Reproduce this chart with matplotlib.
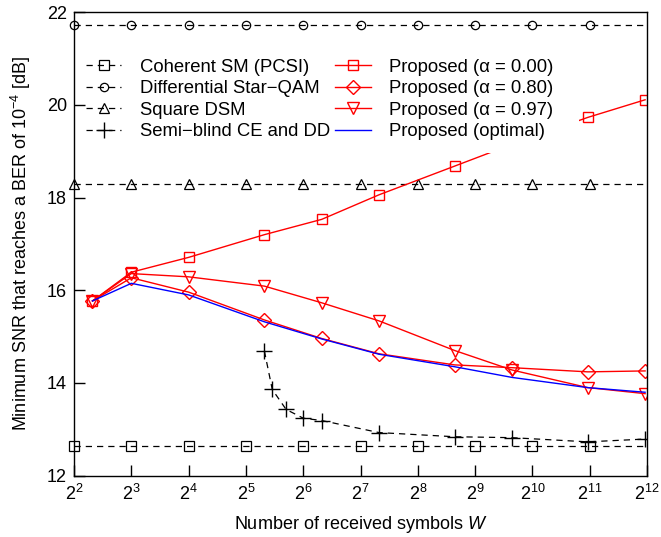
import numpy as np
import matplotlib
matplotlib.use("Agg")
import matplotlib.pyplot as plt
from matplotlib.patches import Rectangle

plt.rcParams['font.family'] = ['Liberation Sans', 'DejaVu Sans']
plt.rcParams['mathtext.fontset'] = 'custom'
plt.rcParams['mathtext.rm'] = 'Liberation Sans'
plt.rcParams['mathtext.it'] = 'Liberation Sans:italic'
plt.rcParams['font.size'] = 13

# Reference lines (drawn over the whole W range)
w_ref = [4, 8, 16, 32, 64, 128, 256, 512, 1024, 2048, 4096]
coherent = 12.63
star_qam = 21.72
square_dsm = 18.29

# Proposed schemes
w_prop = [5, 8, 16, 40, 80, 160, 400, 800, 2000, 4000]
alpha000 = [15.77, 16.39, 16.71, 17.20, 17.53, 18.06, 18.68, 19.15, 19.73, 20.11]
alpha080 = [15.77, 16.27, 15.96, 15.36, 14.96, 14.63, 14.39, 14.33, 14.24, 14.26]
alpha097 = [15.77, 16.36, 16.29, 16.09, 15.73, 15.34, 14.70, 14.28, 13.90, 13.77]
optimal = [15.77, 16.15, 15.90, 15.32, 14.95, 14.62, 14.35, 14.12, 13.90, 13.80]

# Semi-blind CE and DD
w_semi = [40, 44, 52, 64, 80, 160, 400, 800, 2000, 4000]
semi = [14.69, 13.86, 13.43, 13.24, 13.19, 12.93, 12.84, 12.82, 12.73, 12.79]

fig = plt.figure(figsize=(6.61, 5.37), dpi=100)
ax = fig.add_axes([0.112, 0.1142, 0.8669, 0.8631])

dash = dict(color='k', lw=0.9, dashes=(5, 4), mfc='none', mec='k', mew=0.9,
            markevery=range(10), clip_on=False)
ax.plot(w_ref, [coherent]*len(w_ref), marker='s', ms=6.5, label='Coherent SM (PCSI)', **dash)
ax.plot(w_ref, [star_qam]*len(w_ref), marker='o', ms=6, label='Differential Star\u2212QAM', **dash)
ax.plot(w_ref, [square_dsm]*len(w_ref), marker='^', ms=7.5, label='Square DSM', **dash)
ax.plot(w_semi, semi, color='k', lw=0.9, dashes=(5, 4), marker='+', ms=11, mew=1.0,
        label='Semi\u2212blind CE and DD')

red = dict(color='red', lw=1.0, mfc='none', mec='red', mew=1.0)
ax.plot(w_prop, alpha000, marker='s', ms=7, label='Proposed (\u03b1 = 0.00)', **red)
ax.plot(w_prop, alpha080, marker='D', ms=7, label='Proposed (\u03b1 = 0.80)', **red)
ax.plot(w_prop, alpha097, marker='v', ms=8.5, label='Proposed (\u03b1 = 0.97)', **red)
ax.plot(w_prop, optimal, color='blue', lw=1.0, label='Proposed (optimal)')

ax.set_xscale('log', base=2)
ax.set_xlim(4, 4096)
ax.set_ylim(12, 22)
xt = [2**k for k in range(2, 13)]
ax.set_xticks(xt)
ax.set_xticklabels(['$2^{%d}$' % k for k in range(2, 13)])
ax.xaxis.set_minor_locator(matplotlib.ticker.NullLocator())
ax.set_yticks(np.arange(12, 23, 2))
ax.tick_params(direction='in', length=8, width=1, pad=5, top=False, right=False)
ax.tick_params(axis='x', pad=6)
for s in ax.spines.values():
    s.set_linewidth(1.0)

ax.set_xlabel('Number of received symbols $W$', labelpad=7)
ax.set_ylabel('Minimum SNR that reaches a BER of 10$^{-4}$ [dB]', labelpad=10)

# white box behind the legend
ax.add_patch(Rectangle((0.39, 0.696), 0.492, 0.245, transform=ax.transAxes,
                       facecolor='white', edgecolor='none', zorder=4))

leg = ax.legend(ncol=2, loc='upper left', bbox_to_anchor=(0.005, 0.92),
                frameon=False, handlelength=1.9, handletextpad=1.0, fontsize=13.3,
                columnspacing=0.3, labelspacing=0.25, borderpad=0.0)
leg.set_zorder(5)

fig.savefig('out.png', dpi=100)
